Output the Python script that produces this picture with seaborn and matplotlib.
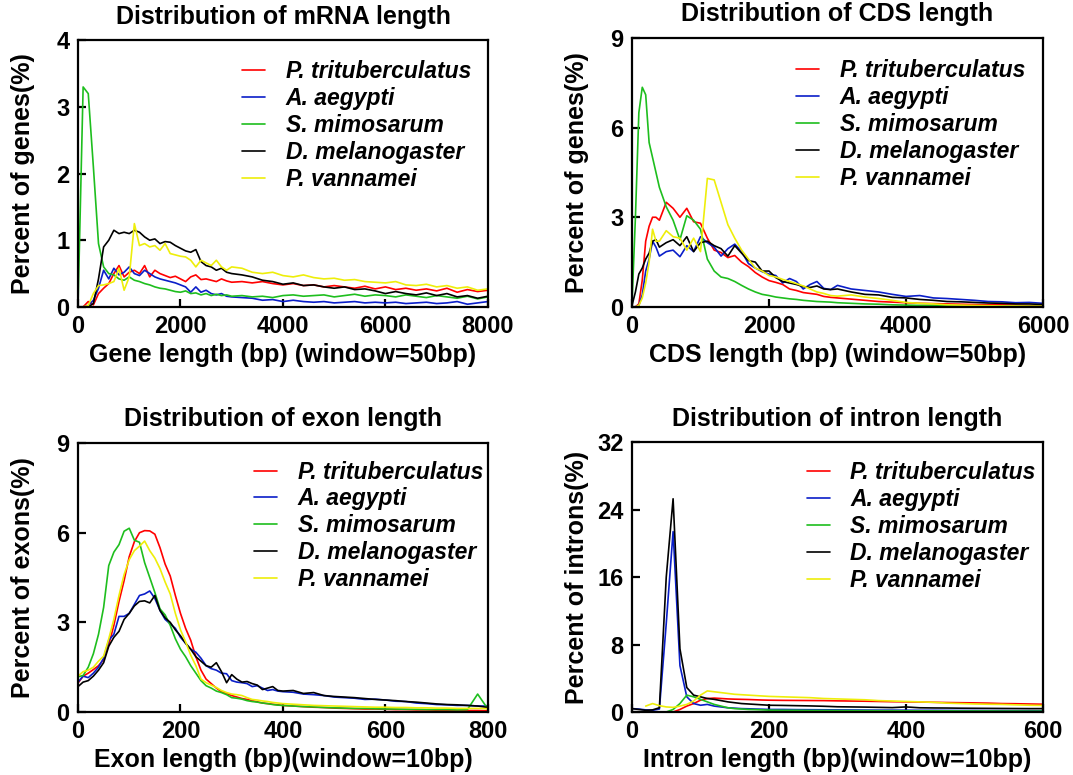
import numpy as np
import pandas as pd
import matplotlib
matplotlib.use("Agg")
import matplotlib.pyplot as plt
import seaborn as sns

species = ["P. trituberculatus", "A. aegypti", "S. mimosarum", "D. melanogaster", "P. vannamei"]
colors = ["#FF0000", "#0A1EC8", "#1EBE1E", "#000000", "#EEEE0A"]

# ---------------- mRNA length ----------------
mrna_x = list(range(0, 3001, 100)) + list(range(3200, 8001, 200))
mrna_red = [0, 0, 0.08, 0.03, 0.2, 0.28, 0.35, 0.5, 0.62, 0.45, 0.52, 0.55, 0.5, 0.62, 0.45, 0.55,
            0.5, 0.47, 0.44, 0.46, 0.42, 0.38, 0.45, 0.48, 0.41, 0.42, 0.4, 0.38, 0.42, 0.39, 0.37,
            0.38, 0.36, 0.38, 0.35, 0.33, 0.35, 0.32, 0.33, 0.3, 0.32, 0.3, 0.28, 0.31, 0.27, 0.3,
            0.26, 0.28, 0.25, 0.27, 0.24, 0.28, 0.22, 0.26, 0.23, 0.25]
mrna_blue = [0, 0, 0.02, 0.1, 0.28, 0.55, 0.42, 0.58, 0.48, 0.52, 0.6, 0.5, 0.47, 0.55, 0.5, 0.45,
             0.42, 0.4, 0.38, 0.36, 0.33, 0.3, 0.22, 0.3, 0.22, 0.25, 0.2, 0.18, 0.2, 0.16, 0.15,
             0.14, 0.13, 0.1, 0.11, 0.08, 0.1, 0.08, 0.07, 0.08, 0.06, 0.07, 0.08, 0.06, 0.07, 0.06,
             0.07, 0.05, 0.06, 0.07, 0.05, 0.06, 0.08, 0.04, 0.06, 0.08]
mrna_green = [0.0, 3.3, 3.2, 2.1, 0.95, 0.6, 0.5, 0.48, 0.42, 0.4, 0.45, 0.4, 0.38, 0.35, 0.33, 0.3,
              0.28, 0.27, 0.25, 0.23, 0.22, 0.24, 0.2, 0.21, 0.18, 0.2, 0.17, 0.19, 0.17, 0.18, 0.16,
              0.17, 0.15, 0.16, 0.14, 0.17, 0.18, 0.16, 0.17, 0.18, 0.15, 0.17, 0.19, 0.16, 0.18, 0.17,
              0.15, 0.18, 0.16, 0.14, 0.17, 0.15, 0.13, 0.16, 0.12, 0.15]
mrna_black = [0, 0, 0, 0.05, 0.42, 0.9, 1.0, 1.15, 1.1, 1.12, 1.1, 1.15, 1.12, 1.05, 1.0, 1.02,
              0.95, 0.98, 0.97, 0.92, 0.88, 0.84, 0.82, 0.86, 0.68, 0.62, 0.6, 0.55, 0.58, 0.52, 0.5,
              0.48, 0.45, 0.4, 0.38, 0.34, 0.36, 0.32, 0.33, 0.3, 0.28, 0.3, 0.26, 0.27, 0.24, 0.2,
              0.23, 0.2, 0.18, 0.21, 0.17, 0.2, 0.15, 0.17, 0.13, 0.16]
mrna_yellow = [0, 0, 0.02, 0.2, 0.32, 0.33, 0.35, 0.38, 0.58, 0.25, 0.45, 1.25, 0.92, 0.95, 0.9, 0.92,
               0.85, 0.95, 0.8, 0.78, 0.76, 0.75, 0.7, 0.6, 0.7, 0.66, 0.62, 0.7, 0.6, 0.55, 0.6,
               0.58, 0.52, 0.5, 0.52, 0.47, 0.45, 0.48, 0.44, 0.42, 0.43, 0.4, 0.41, 0.38, 0.37, 0.36,
               0.38, 0.33, 0.32, 0.34, 0.3, 0.32, 0.28, 0.3, 0.25, 0.27]

# ---------------- CDS length ----------------
cds_x = list(range(0, 401, 50)) + list(range(500, 3001, 100)) + list(range(3200, 6001, 200))
cds_red = [0, 0, 0.1, 0.9, 2.2, 2.7, 3.0, 3.0, 2.9, 3.5, 3.3, 3.0, 3.3, 2.85, 2.8, 2.3, 1.9, 1.82,
           1.65, 1.72, 1.5, 1.35, 1.15, 1.0, 0.88, 0.82, 0.75, 0.6, 0.55, 0.48, 0.45, 0.42, 0.35,
           0.32, 0.3, 0.26, 0.22, 0.18, 0.16, 0.14, 0.12, 0.11, 0.1, 0.09, 0.08, 0.07, 0.07, 0.06,
           0.05, 0.05]
cds_blue = [0, 0, 0.05, 0.4, 1.2, 1.6, 2.2, 2.0, 1.7, 1.85, 1.9, 1.68, 2.05, 1.85, 2.35, 2.15, 2.0,
            1.7, 1.95, 2.1, 1.85, 1.45, 1.3, 1.18, 1.1, 1.05, 0.8, 0.95, 0.85, 0.6, 0.75, 0.85, 0.62,
            0.58, 0.72, 0.6, 0.55, 0.5, 0.42, 0.35, 0.38, 0.3, 0.28, 0.25, 0.22, 0.18, 0.17, 0.14,
            0.15, 0.12]
cds_green = [0.1, 3.0, 6.5, 7.35, 7.1, 5.5, 5.0, 4.5, 4.0, 3.35, 2.9, 2.25, 3.05, 2.9, 2.6, 1.6, 1.2,
             1.0, 0.95, 0.85, 0.72, 0.6, 0.5, 0.42, 0.38, 0.33, 0.3, 0.27, 0.25, 0.22, 0.2, 0.18,
             0.17, 0.16, 0.14, 0.12, 0.1, 0.09, 0.07, 0.06, 0.05, 0.05, 0.04, 0.04, 0.03, 0.03, 0.03,
             0.02, 0.02, 0.02]
cds_black = [0.05, 0.5, 1.1, 1.3, 1.6, 1.8, 2.2, 2.25, 2.0, 2.15, 2.25, 2.05, 2.35, 1.85, 2.15, 2.2,
             2.05, 1.95, 1.7, 2.05, 1.8, 1.55, 1.5, 1.2, 1.2, 0.98, 0.85, 0.8, 0.75, 0.68, 0.65, 0.7,
             0.6, 0.58, 0.6, 0.5, 0.42, 0.4, 0.32, 0.3, 0.25, 0.22, 0.18, 0.17, 0.15, 0.13, 0.12,
             0.1, 0.1, 0.08]
cds_yellow = [0, 0, 0.05, 0.3, 0.8, 1.5, 2.6, 2.2, 2.2, 2.55, 2.35, 2.3, 1.9, 2.3, 1.85, 4.3, 4.25,
              3.5, 2.75, 2.3, 1.9, 1.6, 1.3, 1.2, 1.05, 1.0, 0.92, 0.85, 0.78, 0.7, 0.6, 0.5, 0.45,
              0.38, 0.36, 0.4, 0.33, 0.28, 0.22, 0.15, 0.12, 0.1, 0.07, 0.06, 0.05, 0.04, 0.03, 0.03,
              0.02, 0.02]

# ---------------- exon length ----------------
exon_x = list(range(0, 401, 10)) + list(range(420, 801, 20))
exon_red = [0.97, 1.2, 1.3, 1.42, 1.55, 1.75, 2.25, 2.9, 3.7, 4.4, 5.2, 5.7, 6.0, 6.07, 6.06, 5.95,
            5.5, 4.95, 4.55, 3.9, 3.3, 2.8, 2.4, 1.85, 1.4, 1.1, 0.95, 0.8, 0.68, 0.62, 0.55, 0.5,
            0.45, 0.42, 0.38, 0.34, 0.3, 0.28, 0.26, 0.24, 0.22,
            0.2, 0.18, 0.16, 0.15, 0.13, 0.12, 0.11, 0.1, 0.1, 0.09, 0.08, 0.08, 0.07, 0.07, 0.06,
            0.06, 0.05, 0.05, 0.05, 0.04]
exon_blue = [1.0, 1.2, 1.15, 1.3, 1.5, 1.8, 2.4, 2.6, 3.2, 3.2, 3.3, 3.6, 3.9, 3.95, 4.05, 3.8, 3.4,
             3.1, 2.95, 2.8, 2.5, 2.3, 2.1, 2.0, 1.8, 1.55, 1.45, 1.4, 1.3, 1.28, 1.05, 1.0, 0.98,
             0.95, 0.85, 0.88, 0.8, 0.72, 0.75, 0.7, 0.68,
             0.66, 0.6, 0.58, 0.55, 0.5, 0.48, 0.46, 0.42, 0.43, 0.4, 0.36, 0.35, 0.3, 0.28, 0.25,
             0.24, 0.22, 0.22, 0.2, 0.2]
exon_green = [1.18, 1.22, 1.5, 1.95, 2.6, 3.5, 4.9, 5.35, 5.6, 6.05, 6.15, 5.75, 5.68, 5.0, 4.5,
              4.0, 3.45, 3.25, 2.9, 2.45, 2.1, 1.85, 1.55, 1.3, 1.05, 0.88, 0.8, 0.7, 0.65, 0.58,
              0.48, 0.46, 0.43, 0.38, 0.35, 0.33, 0.3, 0.28, 0.25, 0.23, 0.22,
              0.2, 0.18, 0.17, 0.15, 0.14, 0.13, 0.12, 0.12, 0.11, 0.1, 0.1, 0.09, 0.09, 0.08, 0.08,
              0.08, 0.07, 0.08, 0.6, 0.1]
exon_black = [0.85, 1.0, 1.05, 1.2, 1.4, 1.65, 2.2, 2.5, 2.7, 3.1, 3.3, 3.55, 3.7, 3.72, 3.65, 3.9,
              3.4, 3.15, 3.0, 2.75, 2.55, 2.3, 2.1, 1.85, 1.7, 1.55, 1.5, 1.65, 1.35, 0.98, 1.25,
              1.1, 1.0, 1.02, 0.95, 0.9, 0.75, 0.8, 0.85, 0.72, 0.7,
              0.72, 0.62, 0.65, 0.55, 0.52, 0.5, 0.48, 0.45, 0.42, 0.4, 0.38, 0.35, 0.33, 0.3, 0.27,
              0.25, 0.24, 0.22, 0.2, 0.15]
exon_yellow = [1.2, 1.35, 1.4, 1.5, 1.7, 1.87, 2.45, 3.1, 3.9, 4.6, 5.1, 5.4, 5.55, 5.72, 5.4, 5.15,
               4.8, 4.35, 3.95, 3.3, 2.75, 2.35, 1.9, 1.55, 1.1, 0.98, 0.9, 0.82, 0.72, 0.65, 0.6,
               0.58, 0.55, 0.48, 0.42, 0.4, 0.37, 0.35, 0.32, 0.3, 0.28,
               0.26, 0.24, 0.22, 0.21, 0.2, 0.19, 0.18, 0.17, 0.16, 0.16, 0.15, 0.15, 0.14, 0.14,
               0.13, 0.13, 0.12, 0.12, 0.12, 0.11]

# ---------------- intron length ----------------
nan = np.nan
intron_x = list(range(0, 201, 10)) + list(range(220, 601, 20))
intron_red = [nan, nan, nan, nan, nan, nan, 0.0, 0.3, 0.7, 1.0, 1.4, 1.6, 1.65, 1.6, 1.55, 1.52, 1.5,
              1.48, 1.45, 1.42, 1.4,
              1.38, 1.37, 1.36, 1.35, 1.32, 1.3, 1.28, 1.25, 1.22, 1.2, 1.18, 1.15, 1.12, 1.1, 1.08,
              1.05, 1.0, 0.98, 0.95, 0.92]
intron_blue = [0.4, 0.35, 0.25, 0.2, 0.35, 10.5, 21.4, 5.5, 1.8, 1.0, 0.8, 0.9, 0.7, 0.6, 0.5, 0.45,
               0.4, 0.38, 0.35, 0.33, 0.3,
               0.3, 0.28, 0.27, 0.26, 0.25, 0.24, 0.23, 0.22, 0.22, 0.21, 0.2, 0.2, 0.19, 0.18, 0.18,
               0.17, 0.17, 0.16, 0.16, 0.15]
intron_green = [nan, nan, nan, nan, 0.0, 0.0, 0.3, 1.0, 2.0, 1.8, 1.5, 1.2, 0.9, 0.7, 0.5, 0.4,
                0.35, 0.3, 0.28, 0.25, 0.22,
                0.2, 0.2, 0.18, 0.18, 0.17, 0.16, 0.16, 0.15, 0.15, 0.14, 0.14, 0.13, 0.13, 0.12,
                0.12, 0.12, 0.11, 0.11, 0.1, 0.1]
intron_black = [0.4, 0.3, 0.2, 0.25, 0.5, 16.0, 25.3, 7.5, 2.9, 2.0, 1.8, 1.6, 1.5, 1.35, 1.2, 1.1,
                1.0, 0.95, 0.9, 0.85, 0.8,
                0.78, 0.75, 0.72, 0.68, 0.62, 0.6, 0.58, 0.55, 0.52, 0.6, 0.5, 0.48, 0.47, 0.45,
                0.44, 0.43, 0.42, 0.41, 0.4, 0.4]
intron_yellow = [nan, nan, 0.7, 1.0, 0.75, 0.6, 0.55, 0.7, 0.9, 1.3, 2.0, 2.5, 2.4, 2.3, 2.2, 2.1,
                 2.05, 2.0, 1.95, 1.9, 1.85,
                 1.8, 1.75, 1.7, 1.6, 1.55, 1.5, 1.45, 1.35, 1.3, 1.25, 1.2, 1.15, 1.05, 1.0, 0.95,
                 0.92, 0.9, 0.85, 0.8, 0.78]

panels = [
    dict(x=mrna_x, ys=[mrna_red, mrna_blue, mrna_green, mrna_black, mrna_yellow],
         title="Distribution of mRNA length", xlabel="Gene length (bp) (window=50bp)",
         ylabel="Percent of genes(%)", xlim=(0, 8000), xticks=[0, 2000, 4000, 6000, 8000],
         ylim=(0, 4), yticks=[0, 1, 2, 3, 4], leg=(0.40, 0.925)),
    dict(x=cds_x, ys=[cds_red, cds_blue, cds_green, cds_black, cds_yellow],
         title="Distribution of CDS length", xlabel="CDS length (bp) (window=50bp)",
         ylabel="Percent of genes(%)", xlim=(0, 6000), xticks=[0, 2000, 4000, 6000],
         ylim=(0, 9), yticks=[0, 3, 6, 9], leg=(0.40, 0.92)),
    dict(x=exon_x, ys=[exon_red, exon_blue, exon_green, exon_black, exon_yellow],
         title="Distribution of exon length", xlabel="Exon length (bp)(window=10bp)",
         ylabel="Percent of exons(%)", xlim=(0, 800), xticks=[0, 200, 400, 600, 800],
         ylim=(0, 9), yticks=[0, 3, 6, 9], leg=(0.43, 0.935)),
    dict(x=intron_x, ys=[intron_red, intron_blue, intron_green, intron_black, intron_yellow],
         title="Distribution of intron length", xlabel="Intron length (bp)(window=10bp)",
         ylabel="Percent of introns(%)", xlim=(0, 600), xticks=[0, 200, 400, 600],
         ylim=(0, 32), yticks=[0, 8, 16, 24, 32], leg=(0.425, 0.93)),
]

sns.set_style("white")
plt.rcParams["font.family"] = ["Liberation Sans", "DejaVu Sans"]
plt.rcParams["font.weight"] = "bold"
plt.rcParams["text.color"] = "black"
plt.rcParams["axes.labelcolor"] = "black"
plt.rcParams["xtick.color"] = "black"
plt.rcParams["ytick.color"] = "black"

fig = plt.figure(figsize=(10.73, 7.75), dpi=100)
rects = [
    [0.0727, 0.604, 0.382, 0.344],
    [0.589, 0.604, 0.383, 0.347],
    [0.0727, 0.0813, 0.382, 0.347],
    [0.589, 0.0813, 0.383, 0.348],
]

for p, r in zip(panels, rects):
    ax = fig.add_axes(r)
    frames = []
    for name, y in zip(species, p["ys"]):
        frames.append(pd.DataFrame({"x": p["x"], "y": y, "species": name}))
    df = pd.concat(frames, ignore_index=True).dropna()
    sns.lineplot(data=df, x="x", y="y", hue="species", hue_order=species,
                 palette=dict(zip(species, colors)), estimator=None, sort=False,
                 linewidth=1.2, ax=ax)
    ax.set_xlim(*p["xlim"])
    ax.set_ylim(*p["ylim"])
    ax.set_xticks(p["xticks"])
    ax.set_yticks(p["yticks"])
    ax.tick_params(bottom=True, left=True, direction="in", length=6, width=1.6,
                   labelsize=17, pad=6, colors="black")
    for lab in ax.get_xticklabels() + ax.get_yticklabels():
        lab.set_fontweight("bold")
    for s in ax.spines.values():
        s.set_linewidth(1.6)
        s.set_color("black")
    ax.set_title(p["title"], fontsize=18, fontweight="bold", pad=12, color="black")
    ax.set_xlabel(p["xlabel"], fontsize=18, fontweight="bold", color="black")
    ax.set_ylabel(p["ylabel"], fontsize=18, fontweight="bold", color="black")
    ax.yaxis.set_label_coords(-0.105, 0.5)
    ax.xaxis.set_label_coords(0.5, -0.135)
    handles, labels = ax.get_legend_handles_labels()
    leg = ax.legend(handles, labels, loc="upper left", bbox_to_anchor=p["leg"], frameon=False,
                    borderpad=0, borderaxespad=0, handlelength=1.0, handletextpad=0.9,
                    labelspacing=0.17, prop=dict(family="Liberation Sans", style="italic",
                                                 weight="bold", size=16.5))
    for t in leg.get_texts():
        t.set_color("black")

fig.savefig("out.png", dpi=100)
